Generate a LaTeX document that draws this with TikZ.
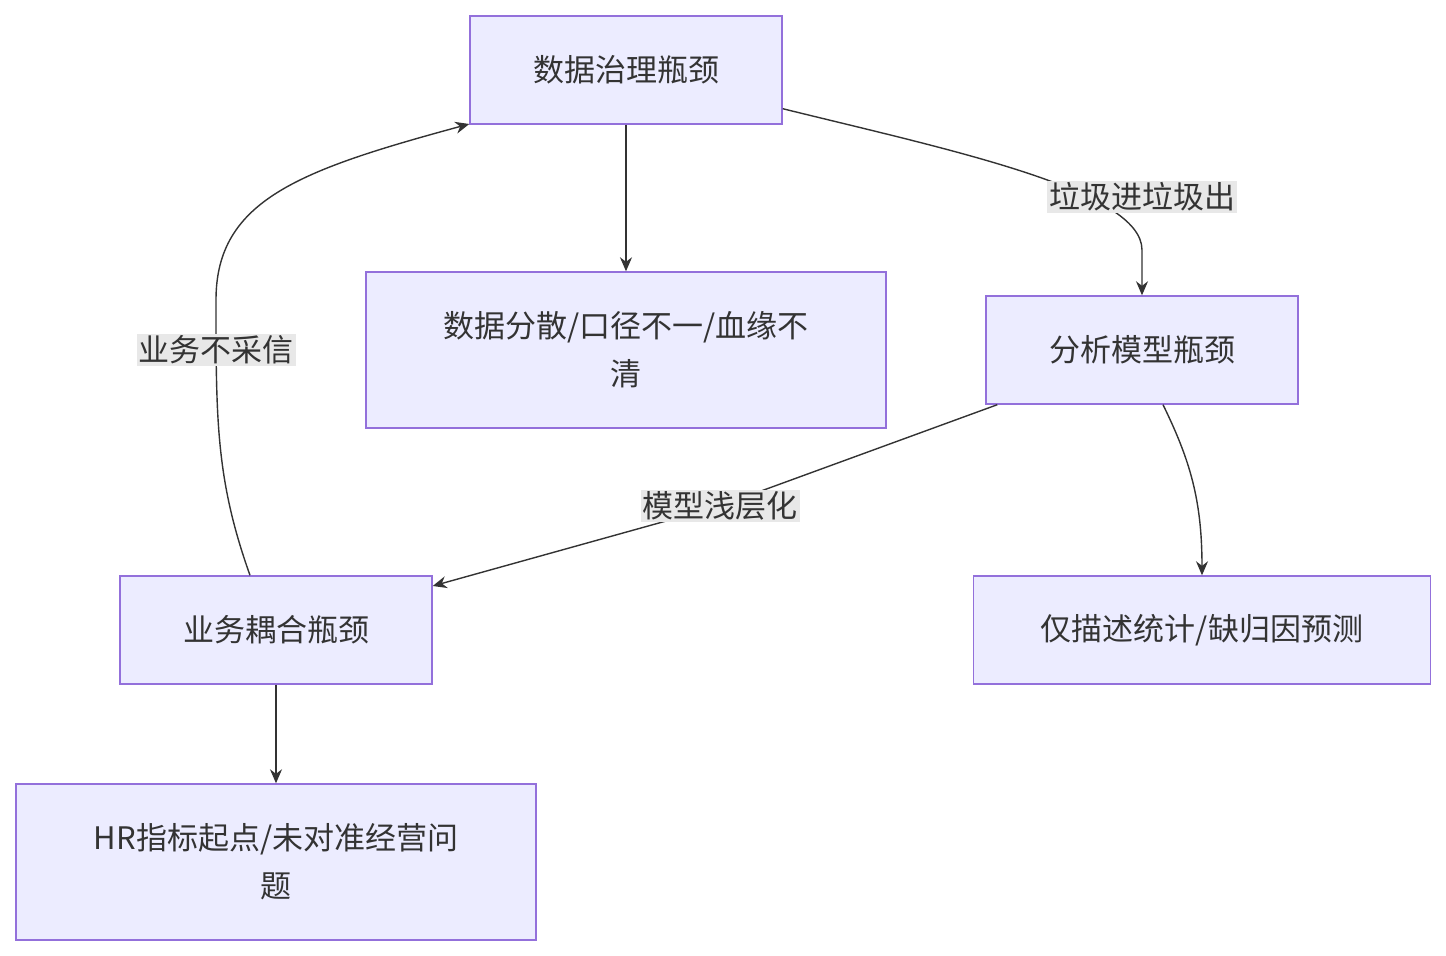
\documentclass[tikz,border=0pt]{standalone}
\usepackage{fontspec}
\setmainfont{Noto Sans CJK SC}
\usetikzlibrary{arrows.meta}
\definecolor{boxfill}{HTML}{ECECFF}
\definecolor{boxline}{HTML}{9370DB}
\definecolor{edgeline}{HTML}{333333}
\definecolor{lblfill}{HTML}{E8E8E8}
\tikzset{
  box/.style={draw=boxline,fill=boxfill,line width=0.7pt,align=center,
    inner sep=0pt,font=\fontsize{15.5}{24}\selectfont,text=edgeline},
  lbl/.style={fill=lblfill,inner sep=1pt,font=\fontsize{15.5}{20}\selectfont,text=edgeline},
  flow/.style={draw=edgeline,line width=0.7pt,-{Stealth[length=7pt,width=6pt]}}
}
\begin{document}
\begin{tikzpicture}[x=0.5pt,y=-0.5pt]
    \useasboundingbox (0,0) rectangle (1446,956);
    \node[box,minimum width=156pt,minimum height=54pt] (G) at (626,70) {数据治理瓶颈};
    \node[box,minimum width=260pt,minimum height=78pt] (S) at (626,350) {数据分散/口径不一/血缘不\\清};
    \node[box,minimum width=156pt,minimum height=54pt] (M) at (1142,350) {分析模型瓶颈};
    \node[box,minimum width=156pt,minimum height=54pt] (B) at (276,630) {业务耦合瓶颈};
    \node[box,minimum width=228.5pt,minimum height=54pt] (D) at (1202,630) {仅描述统计/缺归因预测};
    \node[box,minimum width=260pt,minimum height=78pt] (H) at (276,862) {HR指标起点/未对准经营问\\题};
    \draw[flow] (G) -- (S);
    \draw[flow] (G.south east) ++(0,-16) .. controls (950,150) and (1142,190) .. (1142,250) -- (M.north);
    \node[lbl] (L1) at (1142,197) {垃圾进垃圾出};
    \draw[flow] ([xshift=6pt]M.south west) -- (720,506) -- (B.north east |- 0,586);
    \node[lbl] (L2) at (720,506) {模型浅层化};
    \draw[flow] ([xshift=10.5pt]M.south) .. controls (1190,460) and (1202,500) .. (D.north);
    \draw[flow] ([xshift=-13pt]B.north) .. controls (216,480) and (216,420) .. (216,300)
        .. controls (216,200) and (300,170) .. ([yshift=-3pt]G.south west |- 0,118);
    \node[lbl] (L3) at (216,350) {业务不采信};
    \draw[flow] (B) -- (H);
\end{tikzpicture}
\end{document}
